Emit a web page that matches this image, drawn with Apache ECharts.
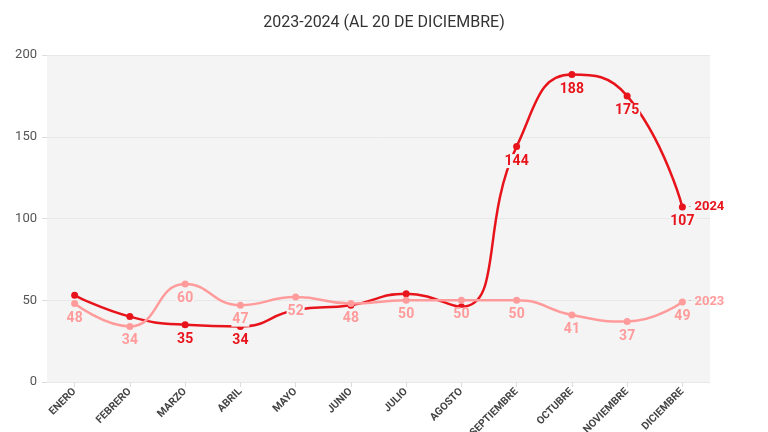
<!DOCTYPE html>
<html><head><meta charset="utf-8">
<script src="https://cdn.jsdelivr.net/npm/echarts@6/dist/echarts.min.js"></script>
<style>html,body{margin:0;padding:0;background:#fff}#c{width:768px;height:432px}</style>
</head><body><div id="c"></div>
<script>
const months = ['ENERO','FEBRERO','MARZO','ABRIL','MAYO','JUNIO','JULIO','AGOSTO','SEPTIEMBRE','OCTUBRE','NOVIEMBRE','DICIEMBRE'];
const values2023 = [48,34,60,47,52,48,50,50,50,41,37,49];
const values2024 = [53,40,35,34,44,47,54,46,144,188,175,107];
const labeled2024 = [false,false,true,true,false,false,false,false,true,true,true,true];
const yTicks = [0,50,100,150,200];
const title = '2023-2024 (AL 20 DE DICIEMBRE)';

const c2023 = '#ff9b9b', c2024 = '#e8141c';
const font = 'Roboto';
function labelStyle(color){
  return {show:true, position:'bottom', distance:4, color:color, fontFamily:font, fontWeight:'bold', fontSize:14,
    backgroundColor:'#f4f4f4', padding:[0,1]};
}
const chart = echarts.init(document.getElementById('c'));
chart.setOption({
  animation:false,
  title:{text:title, left:'center', top:10, textStyle:{fontFamily:font, fontWeight:'normal', fontSize:16, color:'#333'}},
  grid:{left:47, right:58, top:55, bottom:50, outerBoundsMode:'none', containLabel:false, show:true, backgroundColor:'#f4f4f4', borderWidth:0},
  xAxis:{type:'category', data:months, boundaryGap:true,
    axisLine:{show:false},
    axisTick:{show:true, alignWithLabel:true, length:5, lineStyle:{color:'#dddddd'}},
    axisLabel:{rotate:45, fontFamily:font, fontSize:10.5, fontWeight:'bold', color:'#444', margin:8, interval:0}},
  yAxis:{type:'value', min:yTicks[0], max:yTicks[yTicks.length-1], interval:yTicks[1]-yTicks[0],
    axisLine:{show:false},
    axisTick:{show:true, length:5, lineStyle:{color:'#dddddd'}},
    axisLabel:{fontFamily:font, fontSize:13, color:'#555', margin:10},
    splitLine:{lineStyle:{color:'#e8e8e8'}}},
  series:[
    {name:'2024', type:'line', smooth:true, z:2, data:values2024.map((v,i)=>({value:v, label:{show:labeled2024[i]}})),
      symbol:'circle', symbolSize:7, itemStyle:{color:c2024}, lineStyle:{color:c2024, width:2.5},
      label:labelStyle(c2024),
      endLabel:{show:true, distance:6, formatter:()=>'{d|-} {n|2024}',
        rich:{d:{color:'#bbb', fontSize:10, fontFamily:font}, n:{color:c2024, fontSize:13, fontWeight:'bold', fontFamily:font}}}},
    {name:'2023', type:'line', smooth:true, z:3, data:values2023,
      symbol:'circle', symbolSize:7, itemStyle:{color:c2023}, lineStyle:{color:c2023, width:2.5},
      label:labelStyle(c2023),
      endLabel:{show:true, distance:6, formatter:()=>'{d|-} {n|2023}',
        rich:{d:{color:'#bbb', fontSize:10, fontFamily:font}, n:{color:c2023, fontSize:13, fontWeight:'bold', fontFamily:font}}}}
  ]
});
</script></body></html>
